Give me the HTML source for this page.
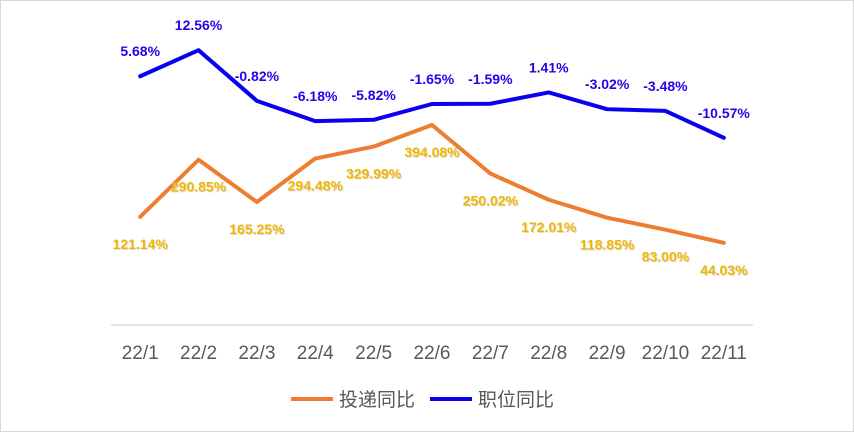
<!DOCTYPE html>
<html><head><meta charset="utf-8"><style>
html,body{margin:0;padding:0;background:#fff}
svg{display:block}
text{font-family:"Liberation Sans","Noto Sans CJK SC",sans-serif}
</style></head><body>
<svg id="chart" width="854" height="432" viewBox="0 0 854 432">
<rect x="0.5" y="0.5" width="853" height="431" fill="#fff" stroke="#d9d9d9"/>
<line x1="111" y1="325" x2="753" y2="325" stroke="#d9d9d9" stroke-width="1.5"/>
<g id="xlabels"></g>
<g id="series"></g>
<g id="labels"></g>
<g>
<line x1="291" y1="399" x2="333" y2="399" stroke="#ed7d31" stroke-width="4"/>
<text x="339" y="406" font-size="19" fill="#595959">投递同比</text>
<line x1="430" y1="399" x2="472" y2="399" stroke="#0a00f0" stroke-width="4"/>
<text x="478" y="406" font-size="19" fill="#595959">职位同比</text>
</g>
</svg>
<script>
const categories=["22/1","22/2","22/3","22/4","22/5","22/6","22/7","22/8","22/9","22/10","22/11"];
const deliveryValues=[121.14,290.85,165.25,294.48,329.99,394.08,250.02,172.01,118.85,83.00,44.03];
const jobValues=[5.68,12.56,-0.82,-6.18,-5.82,-1.65,-1.59,1.41,-3.02,-3.48,-10.57];
const primaryRange=[-200,700];
const secondaryRange=[-60,20];
const plotTop=22,plotBottom=325,plotLeft=111,plotRight=753;
const NS="http://www.w3.org/2000/svg";
const step=(plotRight-plotLeft)/categories.length;
function xPos(i){return plotLeft+step*(i+0.5);}
function yPrimary(v){return plotBottom-(v-primaryRange[0])/(primaryRange[1]-primaryRange[0])*(plotBottom-plotTop);}
function ySecondary(v){return plotBottom-(v-secondaryRange[0])/(secondaryRange[1]-secondaryRange[0])*(plotBottom-plotTop);}
function mk(tag,attrs,parent){const e=document.createElementNS(NS,tag);for(const k in attrs)e.setAttribute(k,attrs[k]);parent.appendChild(e);return e;}
const xl=document.getElementById('xlabels');
categories.forEach((c,i)=>{
  const t=mk('text',{x:xPos(i),y:359,'font-size':19,fill:'#595959','text-anchor':'middle'},xl);
  
  
  t.textContent=c;
});
const sg=document.getElementById('series');
const dl=mk('polyline',{points:deliveryValues.map((v,i)=>xPos(i)+','+yPrimary(v)).join(' '),fill:'none',stroke:'#ed7d31','stroke-width':4,'stroke-linejoin':'round','stroke-linecap':'round'},sg);


const jl=mk('polyline',{points:jobValues.map((v,i)=>xPos(i)+','+ySecondary(v)).join(' '),fill:'none',stroke:'#0a00f0','stroke-width':4,'stroke-linejoin':'round','stroke-linecap':'round'},sg);


const lg=document.getElementById('labels');
deliveryValues.forEach((v,i)=>{
  const s=mk('text',{x:xPos(i)+1,y:yPrimary(v)+33,'font-size':14,'font-weight':'bold',fill:'#c9c9c9','text-anchor':'middle',opacity:0.6},lg);
  
  
  s.textContent=v.toFixed(2)+'%';
  const t=mk('text',{x:xPos(i),y:yPrimary(v)+32,'font-size':14,'font-weight':'bold',fill:'#f2b705','text-anchor':'middle'},lg);
  
  
  t.textContent=v.toFixed(2)+'%';
});
jobValues.forEach((v,i)=>{
  const t=mk('text',{x:xPos(i),y:ySecondary(v)-20,'font-size':14,'font-weight':'bold',fill:'#2a00e8','text-anchor':'middle'},lg);
  
  
  t.textContent=v.toFixed(2)+'%';
});
</script>
</body></html>
